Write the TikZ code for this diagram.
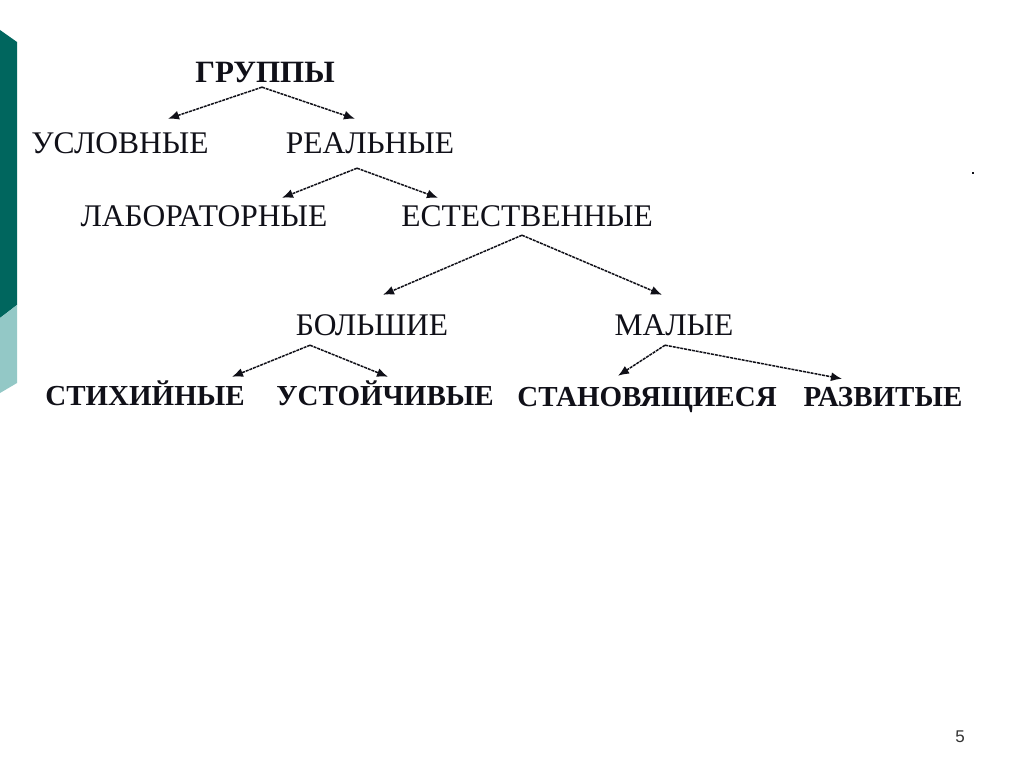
\documentclass[tikz,border=0pt]{standalone}
\usepackage{fontspec}
\setmainfont{Liberation Serif}
\newfontfamily\pagefont{Liberation Sans}
\usetikzlibrary{arrows.meta}
\definecolor{darkteal}{HTML}{00665E}
\definecolor{lightteal}{HTML}{93C8C6}
\definecolor{ink}{HTML}{101018}
\begin{document}
\begin{tikzpicture}[x=1pt,y=-1pt,
  lbl/.style={inner sep=0pt,text height=20pt,text depth=0pt,font=\fontsize{31.5}{32}\selectfont,text=ink},
  blbl/.style={lbl,font=\fontsize{29}{30}\selectfont\bfseries},
  arr/.style={-{Latex[length=11pt,width=9pt]},line width=1.5pt,dash pattern=on 3pt off 0.9pt,draw=ink}]
\useasboundingbox[fill=white] (0,0) rectangle (1024,767);
% side bar
\fill[darkteal] (0,30) -- (17,42) -- (17,305) -- (0,318) -- cycle;
\fill[lightteal] (0,318) -- (17,305) -- (17,383) -- (0,393) -- cycle;
% nodes
\node[blbl,font=\fontsize{31}{32}\selectfont\bfseries] (grp) at (265,73) {ГРУППЫ};
\node[lbl] (usl) at (120,144) {УСЛОВНЫЕ};
\node[lbl] (real) at (370,144) {РЕАЛЬНЫЕ};
\node[lbl] (lab) at (204,216) {ЛАБОРАТОРНЫЕ};
\node[lbl] (est) at (527,216) {ЕСТЕСТВЕННЫЕ};
\node[lbl] (bol) at (372,325) {БОЛЬШИЕ};
\node[lbl] (mal) at (674,325) {МАЛЫЕ};
\node[blbl] (sti) at (145,395) {СТИХИЙНЫЕ};
\node[blbl] (ust) at (385,395) {УСТОЙЧИВЫЕ};
\node[blbl] (stan) at (647,396) {СТАНОВЯЩИЕСЯ};
\node[blbl] (raz) at (883,396) {РАЗВИТЫЕ};
% connectors
\draw[arr] ([xshift=-3pt,yshift=-4pt]grp.south) -- ([xshift=48pt,yshift=15pt]usl.north);
\draw[arr] ([xshift=-3pt,yshift=-4pt]grp.south) -- ([xshift=-15pt,yshift=15pt]real.north);
\draw[arr] ([xshift=-13pt,yshift=-14pt]real.south) -- ([xshift=78pt,yshift=8pt]lab.north);
\draw[arr] ([xshift=-13pt,yshift=-14pt]real.south) -- ([xshift=-89pt,yshift=8pt]est.north);
\draw[arr] ([xshift=-5pt,yshift=-9pt]est.south) -- ([xshift=11pt,yshift=20pt]bol.north);
\draw[arr] ([xshift=-5pt,yshift=-9pt]est.south) -- ([xshift=-12pt,yshift=20pt]mal.north);
\draw[arr] ([xshift=-62pt,yshift=-10pt]bol.south) -- ([xshift=87pt,yshift=8pt]sti.north);
\draw[arr] ([xshift=-62pt,yshift=-10pt]bol.south) -- ([xshift=3pt,yshift=8pt]ust.north);
\draw[arr] ([xshift=-9pt,yshift=-10pt]mal.south) -- ([xshift=-29pt,yshift=10pt]stan.north);
\draw[arr] ([xshift=-9pt,yshift=-10pt]mal.south) -- ([xshift=-41pt,yshift=7pt]raz.north);
% page number and stray dot
\node[inner sep=0pt,font=\pagefont\fontsize{17}{18}\selectfont,text=black!80] (pg) at (960,737) {5};
\fill[ink] (972,172) rectangle (974,174);
\end{tikzpicture}
\end{document}
